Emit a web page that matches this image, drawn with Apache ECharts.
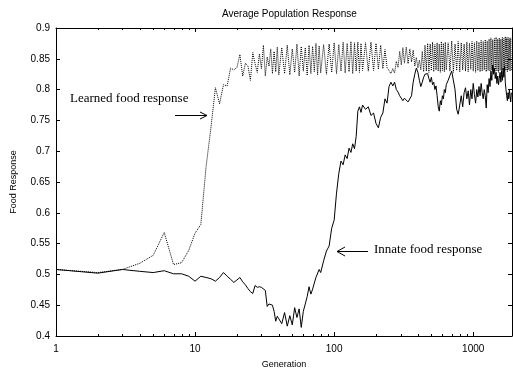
<!DOCTYPE html>
<html><head><meta charset="utf-8">
<script src="https://cdn.jsdelivr.net/npm/echarts@6/dist/echarts.min.js"></script>
<style>html,body{margin:0;padding:0;background:#fff}#c{width:513px;height:374px}</style>
</head><body><div id="c"></div>
<script>
// Generation numbers (x values)
const generations = [
  1,2,3,4,5,6,7,8,9,10,11,12,13,14,15,16,17,18,19,
  20,21,22,23,24,25,26,27,28,29,30,31,32,33,34,35,36,37,38,39,40,
  42,44,46,48,50,52,54,56,58,60,62,64,66,68,70,72,74,76,78,80,
  84,88,92,96,100,104,108,112,116,120,124,128,132,136,140,144,148,152,156,160,
  168,176,184,192,200,208,216,224,232,240,248,256,264,272,280,288,296,304,312,320,
  330,340,350,360,370,380,390,400,410,420,430,440,450,460,470,480,490,500,510,520,530,540,550,560,570,580,590,600,610,620,630,640,
  660,680,700,720,740,760,780,800,820,840,860,880,900,920,940,960,980,1000,1020,1040,1060,1080,1100,1120,1140,1160,1180,1200,1220,1240,
  1260,1280,1300,1320,1340,1360,1380,1400,1420,1440,1460,1480,1500,1520,1540,1560,1580,1600,1620,1640,1660,1680,1700,1720,1740,1760,1780,1800,1820,1840,1860,1880
];
// Learned food response (dotted)
const learnedResponse = [
  0.508,0.503,0.508,0.518,0.531,0.568,0.516,0.519,0.539,0.567,0.581,0.675,0.738,0.803,0.777,0.808,0.806,0.835,0.832,
  0.836,0.857,0.822,0.843,0.838,0.815,0.86,0.842,0.828,0.858,0.834,0.872,0.822,0.853,0.838,0.866,0.826,0.862,0.829,0.869,0.824,
  0.868,0.826,0.872,0.824,0.866,0.828,0.874,0.822,0.870,0.830,0.868,0.823,0.872,0.826,0.870,0.829,0.875,0.824,0.871,0.827,
  0.873,0.825,0.874,0.828,0.876,0.826,0.873,0.830,0.877,0.827,0.875,0.829,0.878,0.826,0.876,0.830,0.877,0.828,0.875,0.831,
  0.876,0.830,0.877,0.831,0.875,0.833,0.872,0.834,0.865,0.836,0.838,0.826,0.834,0.827,0.846,0.836,0.862,0.840,0.868,0.843,
  0.869,0.842,0.866,0.845,0.864,0.838,0.852,0.835,0.848,0.832,0.862,0.829,0.872,0.830,0.875,0.828,0.874,0.831,0.877,0.829,
  0.873,0.832,0.876,0.830,0.874,0.828,0.878,0.831,0.875,0.829,0.877,0.832,
  0.876,0.83,0.879,0.828,0.874,0.831,0.878,0.829,0.876,0.832,0.874,0.83,0.877,0.829,0.875,0.833,0.878,0.83,0.876,0.828,
  0.879,0.831,0.877,0.829,0.88,0.83,0.878,0.832,0.881,0.829,0.879,0.831,0.882,0.83,0.884,0.832,0.881,0.829,0.883,0.831,
  0.885,0.83,0.882,0.828,0.884,0.831,0.882,0.829,0.885,0.832,0.883,0.83,0.886,0.831,0.884,0.829,0.885,0.832,0.883,0.83,
  0.884,0.831
];
// Innate food response (solid)
const innateResponse = [
  0.508,0.502,0.508,0.505,0.503,0.506,0.501,0.501,0.497,0.489,0.497,0.495,0.493,0.489,0.495,0.503,0.497,0.492,0.487,
  0.491,0.495,0.488,0.483,0.477,0.472,0.469,0.482,0.479,0.480,0.479,0.477,0.474,0.448,0.452,0.451,0.450,0.440,0.424,0.432,0.428,
  0.420,0.438,0.416,0.433,0.418,0.446,0.430,0.444,0.414,0.440,0.452,0.464,0.480,0.468,0.476,0.486,0.495,0.492,0.508,0.503,
  0.522,0.538,0.546,0.575,0.588,0.632,0.664,0.684,0.678,0.694,0.688,0.705,0.698,0.712,0.704,0.724,0.765,0.772,0.763,0.775,
  0.768,0.772,0.758,0.762,0.745,0.738,0.755,0.762,0.785,0.778,0.805,0.812,0.806,0.812,0.800,0.796,0.790,0.792,0.782,0.786,
  0.783,0.780,0.778,0.790,0.812,0.825,0.835,0.828,0.815,0.805,0.812,0.820,0.825,0.822,0.826,0.818,0.812,0.820,0.808,0.812,
  0.800,0.806,0.790,0.772,0.765,0.782,0.775,0.790,0.785,0.800,0.795,0.808,
  0.815,0.823,0.830,0.833,0.800,0.768,0.760,0.775,0.790,0.772,0.795,0.803,0.785,0.798,0.775,0.800,0.785,0.810,0.792,0.778,
  0.800,0.788,0.805,0.790,0.810,0.795,0.785,0.800,0.790,0.770,0.808,0.795,0.818,0.805,0.830,0.815,0.840,0.825,0.835,0.818,
  0.828,0.810,0.822,0.808,0.818,0.828,0.812,0.830,0.815,0.835,0.820,0.838,0.812,0.800,0.790,0.782,0.795,0.785,0.800,0.790,
  0.780,0.795
];
// Axis ticks
const xMajorTicks = [1, 10, 100, 1000];
const xMinorTicks = [2,3,4,5,6,7,8,9,20,30,40,50,60,70,80,90,200,300,400,500,600,700,800,900];
const yMin = 0.4, yMax = 0.9, yStep = 0.05;
const xMin = 1, xMax = 1900;

const FONT = 'Liberation Sans';
const chart = echarts.init(document.getElementById('c'), null, {renderer: 'canvas'});

const axisBase = {
  axisLine: {show: true, onZero: false, lineStyle: {color: '#000', width: 1}},
  axisTick: {show: true, inside: true, length: 4, lineStyle: {color: '#000', width: 1}},
  splitLine: {show: false},
  minorTick: {show: false}
};

const option = {
  animation: false,
  backgroundColor: '#fff',
  title: {
    text: 'Average Population Response',
    left: 217, top: 4,
    textStyle: {fontSize: 10, fontWeight: 'normal', color: '#000', fontFamily: FONT}
  },
  grid: {left: 56, top: 28, width: 456, height: 313, containLabel: false},
  xAxis: [
    Object.assign({}, axisBase, {
      type: 'log', logBase: 10, min: xMin, max: xMax, position: 'bottom',
      axisLabel: {fontSize: 10, color: '#000', fontFamily: FONT, margin: 8, showMaxLabel: false,
        formatter: v => { const r = Math.round(v); return xMajorTicks.indexOf(r) >= 0 ? String(r) : ''; }},
      name: 'Generation', nameLocation: 'middle', nameGap: 24,
      nameTextStyle: {fontSize: 9, color: '#000', fontFamily: FONT}
    }),
    Object.assign({}, axisBase, {
      type: 'log', logBase: 10, min: xMin, max: xMax, position: 'top',
      axisLabel: {show: false}
    })
  ],
  yAxis: [
    Object.assign({}, axisBase, {
      type: 'value', min: yMin, max: yMax, interval: yStep, position: 'left',
      axisLabel: {fontSize: 10, color: '#000', fontFamily: FONT, margin: 6,
        formatter: v => String(+v.toFixed(2))},
      name: 'Food Response', nameLocation: 'middle', nameGap: 38, nameRotate: 90,
      nameTextStyle: {fontSize: 9, color: '#000', fontFamily: FONT}
    }),
    Object.assign({}, axisBase, {
      type: 'value', min: yMin, max: yMax, interval: yStep, position: 'right',
      axisLabel: {show: false}
    })
  ],
  series: [
    {
      name: 'Learned', type: 'line', xAxisIndex: 0, yAxisIndex: 0,
      data: generations.map((g, i) => [g, learnedResponse[i]]),
      showSymbol: false, symbol: 'none',
      lineStyle: {color: '#000', width: 1, type: 'dotted'},
      z: 3
    },
    {
      name: 'Innate', type: 'line', xAxisIndex: 0, yAxisIndex: 0,
      data: generations.map((g, i) => [g, innateResponse[i]]),
      showSymbol: false, symbol: 'none',
      lineStyle: {color: '#000', width: 1},
      z: 4
    },
    {
      name: 'minorTicks', type: 'custom', xAxisIndex: 0, yAxisIndex: 0, silent: true,
      data: xMinorTicks.map(g => [g, yMin]),
      renderItem: (params, api) => {
        const b = api.coord([api.value(0), yMin]);
        const t = api.coord([api.value(0), yMax]);
        const x = Math.round(b[0]) + 0.5;
        return {type: 'group', children: [
          {type: 'line', shape: {x1: x, y1: b[1], x2: x, y2: b[1] - 2}, style: {stroke: '#000', lineWidth: 1}},
          {type: 'line', shape: {x1: x, y1: t[1], x2: x, y2: t[1] + 2}, style: {stroke: '#000', lineWidth: 1}}
        ]};
      },
      z: 5
    }
  ],
  graphic: [
    {type: 'text', left: 70, top: 92, style: {text: 'Learned food response', font: '13px "Liberation Serif"', fill: '#000'}},
    {type: 'polyline', shape: {points: [[175, 115.5], [207, 115.5]]}, style: {stroke: '#000', lineWidth: 1, fill: null}},
    {type: 'polyline', shape: {points: [[200, 112], [207, 115.5], [200, 119]]}, style: {stroke: '#000', lineWidth: 1, fill: null}},
    {type: 'text', left: 374, top: 243, style: {text: 'Innate food response', font: '13px "Liberation Serif"', fill: '#000'}},
    {type: 'polyline', shape: {points: [[337, 251.5], [368, 251.5]]}, style: {stroke: '#000', lineWidth: 1, fill: null}},
    {type: 'polyline', shape: {points: [[345, 247], [337, 251.5], [345, 256]]}, style: {stroke: '#000', lineWidth: 1, fill: null}}
  ]
};
chart.setOption(option);
</script>
</body></html>
